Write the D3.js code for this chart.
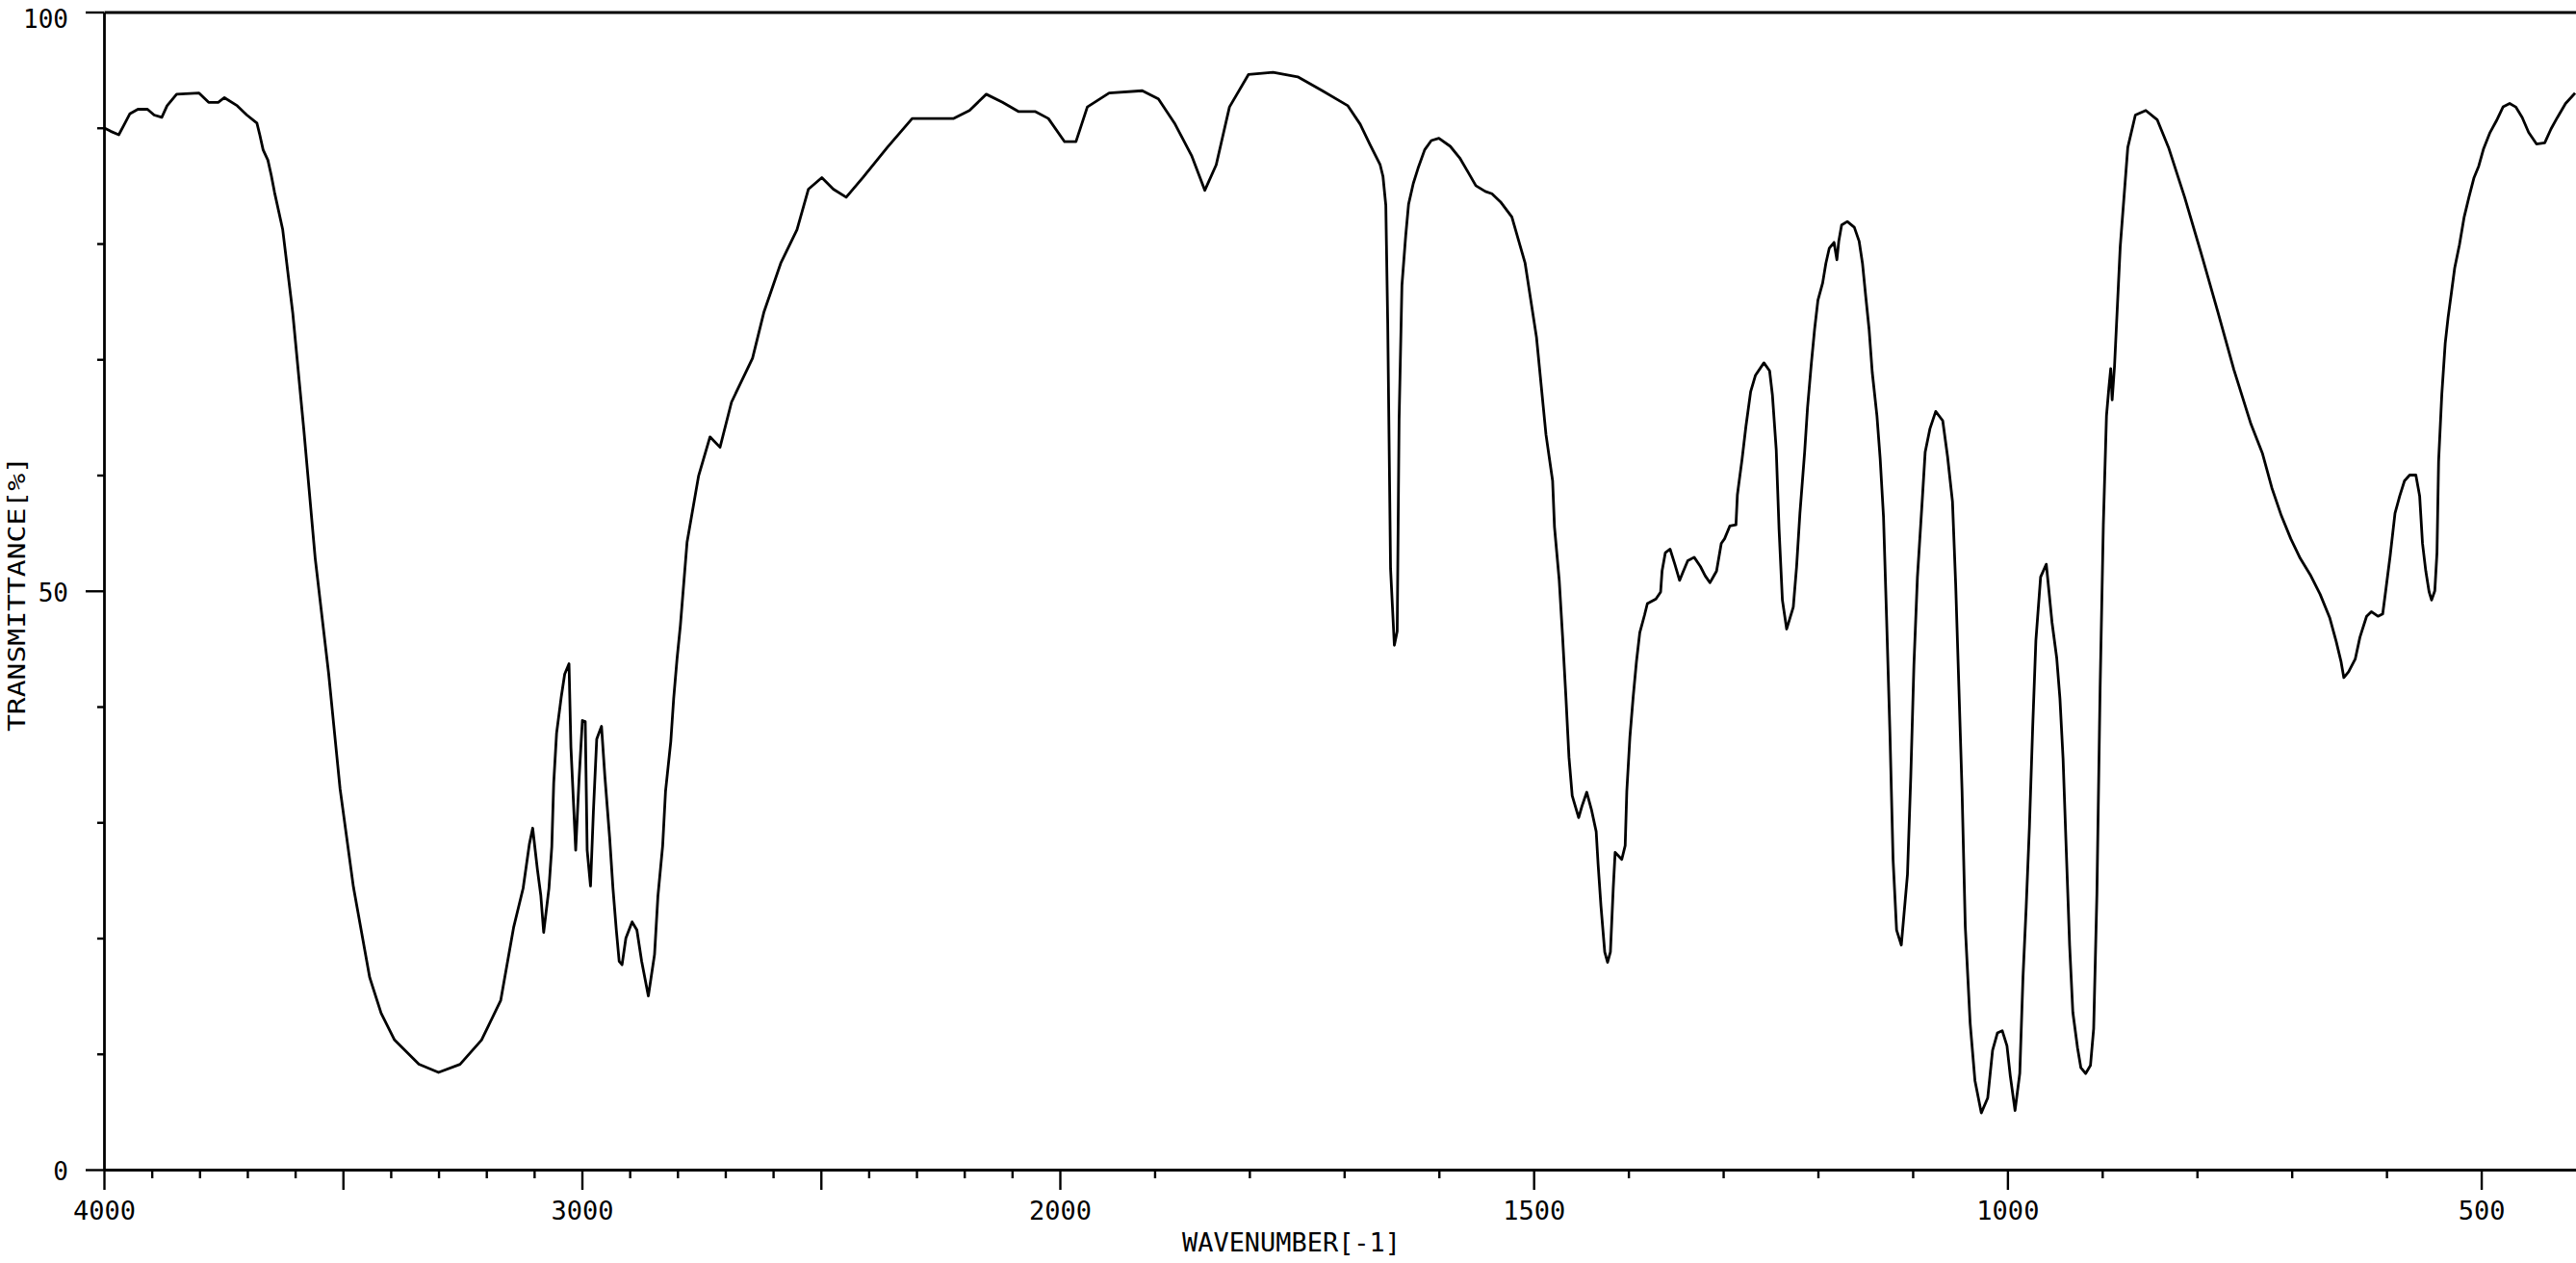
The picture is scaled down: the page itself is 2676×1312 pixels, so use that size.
<!DOCTYPE html>
<html>
<head>
<meta charset="utf-8">
<script src="https://cdn.jsdelivr.net/npm/d3@7"></script>
<style>
  html, body { margin: 0; padding: 0; background: #fff; }
  svg { display: block; }
  text { font-family: "DejaVu Sans Mono", "Liberation Mono", monospace; fill: #000; }
</style>
</head>
<body>
<script>
// ---- Data ----
const wavenumbers = [
  4000,3986,3969,3956,3946,3929,3909,3895,3879,3868,3848,3801,3781,3761,3748,3721,3701,3680,3674,3667,3657,3650,3643,3626,3605,3582,3558,3530,3506,3478,3444,3420,3392,3341,3300,3255,3210,3170,3143,3123,3110,3103,3093,3086,3080,3069,3063,3059,3053,3043,3036,3027,3023,3013,3006,2999,2993,2989,2982,2976,2969,2959,2952,2942,2935,2928,2922,2916,2908,2895,2885,2875,2861,2848,2841,2831,2825,2814,2808,2801,2794,2780,2756,2732,2711,2687,2643,2619,2584,2550,2526,2498,2474,2447,2412,2361,2309,2223,2189,2154,2120,2086,2051,2024,1995,1983,1971,1948,1913,1896,1879,1861,1847,1835,1821,1801,1775,1749,1723,1696,1683,1673,1662,1659,1656,1654,1651,1647,1644,1642,1639,1635,1632,1627,1622,1615,1608,1600,1588,1578,1568,1561,1551,1544,1535,1523,1509,1497,1487,1480,1478,1473,1469.5,1466,1462.7,1459.3,1452.5,1449,1444,1439,1434,1432,1429,1425,1422,1419,1416,1414,1407,1403.4,1401.7,1398.4,1395,1391.5,1388,1383,1380,1371,1366,1364.5,1361,1356,1351,1346,1342.5,1337.4,1330.6,1324,1319,1314,1307,1302,1298.5,1293,1286.5,1285,1280,1276,1271,1266,1257,1251,1248,1244,1241,1237.5,1233,1226,1222.5,1219,1214,1211,1207,1203.5,1200,1195,1191.6,1188,1183,1180,1178,1175,1169,1161.6,1156.5,1153,1149.5,1146,1142.7,1137.7,1134.3,1130.8,1127.5,1124,1120.7,1117,1112,1105.5,1102,1098.7,1095,1090,1086.8,1081.8,1075.7,1068.3,1063.2,1058,1054.6,1051.3,1047.9,1044.5,1039.4,1034.3,1027.6,1020.8,1015.7,1010.6,1005.5,1000.5,997,992,987,983.6,980.2,976.8,973.4,970,965,959,953,948,944.6,941.3,937.8,934.4,931,926,922.5,917.5,912.4,909,905.6,902.2,898.8,895.5,893,891,889.5,887,881,873,865,854,842,830,813,795,778,761,743,731,721,711,701,691,680.5,670,660,653,648,645,640,633,628,621,616,609,604,601,596,591,586,581,575.5,569,565,562,558.5,555,552.4,549,546.7,545,541.6,538,535,531.4,528,523,518,513,507.6,502.6,497.5,490.7,484,477,470,463.6,456.8,450,441.7,433,426.4,419.6,411,401
];
const transmittance = [
  90.0,89.7,89.4,90.4,91.2,91.6,91.6,91.1,90.9,91.9,92.9,93.0,92.2,92.2,92.6,91.9,91.1,90.4,89.4,88.1,87.2,85.9,84.4,81.2,74,64,52.8,42.9,32.9,24.4,16.6,13.5,11.2,9.1,8.4,9.1,11.2,14.6,20.9,24.3,28.1,29.5,25.9,23.7,20.5,24.3,27.9,33.4,37.7,40.9,42.8,43.7,36.5,27.6,33.7,38.8,38.7,27.6,24.5,30.9,37.2,38.3,34,28.7,24.3,20.7,18,17.7,20,21.4,20.7,18,15,18.6,23.6,28,32.7,37,40.7,44.1,47,54.2,59.9,63.3,62.4,66.3,70.1,74.1,78.3,81.2,84.7,85.7,84.7,84,85.7,88.3,90.8,90.8,91.5,92.9,92.2,91.4,91.4,90.8,88.8,88.8,91.8,93,93.2,92.5,90.4,87.6,84.6,86.8,91.8,94.6,94.8,94.4,93.2,91.9,90.3,88.6,86.8,85.8,83.3,73.1,51.9,45.3,46.5,64.8,76.4,80.7,83.4,85.2,86.5,88.1,88.9,89.1,88.4,87.4,86,85,84.5,84.3,83.6,82.3,78.3,71.9,63.5,59.5,55.5,50.9,46.1,40.9,35.6,32.3,30.4,31.4,32.6,31.1,29.2,26.4,22.8,18.8,17.9,18.8,24.3,27.4,26.8,28,32.7,37.4,40.8,43.9,46.4,47.9,48.9,49.3,49.9,51.7,53.3,53.6,52.3,50.9,51.6,52.6,52.9,52.1,51.3,50.7,51.7,54.1,54.5,55.6,55.7,58.3,61.4,64.2,67.2,68.6,69.7,69,66.9,62.2,55.3,49.2,46.7,48.6,52.1,56.7,62,65.8,69.6,72.6,75.1,76.6,78.3,79.6,80.1,78.6,80.2,81.6,81.9,81.4,80.2,78.3,75.4,72.6,68.9,65.1,61.4,56.4,47.5,37.7,26.8,20.7,19.4,25.5,34,43.6,51.2,57.7,62,64,65.5,64.7,61.6,57.7,50.5,41.8,32.7,21,12.7,7.7,4.9,6.2,10.3,11.8,12,10.7,8.1,5.1,8.3,16.6,22.7,29.6,38.1,45.7,51.2,52.3,47.3,44.2,40.7,35.5,27.3,19.4,13.6,10.5,8.8,8.3,9,12.2,23.8,41.6,55.7,65.1,67.5,69.2,66.5,69.4,79.7,88.3,91.1,91.5,90.7,88.3,84,79,74.1,69.1,64.4,61.9,58.9,56.5,54.5,52.8,51.4,49.7,47.7,45.6,43.9,42.5,43,44.1,46,47.8,48.2,47.8,48,49.9,53.1,56.7,58.2,59.5,60,60,58.2,54.1,51.7,49.9,49.2,50,53.3,61.2,67,71.4,73.6,75.8,77.9,79.9,82.3,84,85.7,86.7,88.2,89.6,90.6,91.8,92.1,91.8,90.9,89.6,88.6,88.7,89.9,90.9,92.1,93
];
const xTickValues = d3.range(4000, 400, -100);
const xMajorTicks = [4000, 3500, 3000, 2500, 2000, 1500, 1000, 500];
const xTickLabels = [4000, 3000, 2000, 1500, 1000, 500];
const yTickValues = d3.range(0, 101, 10);
const yTickLabels = [0, 50, 100];
const xTitle = "WAVENUMBER[-1]";
const yTitle = "TRANSMITTANCE[%]";

// ---- Layout ----
const W = 2676, H = 1312;
const mLeft = 108, mRight = 2676, mTop = 12.5, mBottom = 1215;

const svg = d3.select("body").append("svg").attr("width", W).attr("height", H);

// Spectrometer-style split scale: x scale doubles below 2000 cm-1
const x = d3.scaleLinear().domain([4000, 2000, 400]).range([mLeft, 1101, mRight]);
const y = d3.scaleLinear().domain([0, 100]).range([mBottom, mTop]);

const strokeW = 2.8;

// bottom axis
const xAxis = d3.axisBottom(x)
  .tickValues(xTickValues)
  .tickSizeOuter(0)
  .tickSizeInner(9)
  .tickFormat(d => xTickLabels.includes(d) ? String(d) : "");
const gx = svg.append("g").attr("transform", `translate(0,${mBottom})`).call(xAxis);
gx.select(".domain").attr("stroke", "#000").attr("stroke-width", strokeW);
gx.selectAll(".tick line").attr("stroke", "#000").attr("stroke-width", 2.4)
  .attr("y2", d => xMajorTicks.includes(d) ? 21 : 9);
gx.selectAll(".tick text").attr("y", 52).attr("dy", 0)
  .attr("font-size", 27).attr("font-family", "DejaVu Sans Mono");

// top frame
const gt = svg.append("g").attr("transform", `translate(0,${mTop})`)
  .call(d3.axisTop(x).tickValues([]).tickSizeOuter(0));
gt.select(".domain").attr("stroke", "#000").attr("stroke-width", strokeW);

// left axis
const yAxis = d3.axisLeft(y)
  .tickValues(yTickValues)
  .tickSizeOuter(0)
  .tickSizeInner(7)
  .tickFormat(d => yTickLabels.includes(d) ? String(d) : "");
const gy = svg.append("g").attr("transform", `translate(${mLeft},0)`).call(yAxis);
gy.select(".domain").attr("stroke", "#000").attr("stroke-width", strokeW);
gy.selectAll(".tick line").attr("stroke", "#000").attr("stroke-width", 2.4)
  .attr("x2", d => yTickLabels.includes(d) ? -19 : -7);
gy.selectAll(".tick text").attr("x", -37)
  .attr("dy", d => d === 100 ? "0.62em" : "0.42em")
  .attr("font-size", 26).attr("font-family", "DejaVu Sans Mono");

// axis titles
svg.append("text")
  .attr("x", 1228).attr("y", 1300)
  .attr("font-size", 27)
  .attr("textLength", 227)
  .attr("lengthAdjust", "spacingAndGlyphs")
  .text(xTitle);

svg.append("text")
  .attr("transform", `translate(26,617) rotate(-90)`)
  .attr("text-anchor", "middle")
  .attr("font-size", 25)
  .attr("textLength", 286)
  .attr("lengthAdjust", "spacingAndGlyphs")
  .text(yTitle);

// spectrum
const data = wavenumbers.map((w, i) => ({ w, t: transmittance[i] }));
svg.append("path")
  .datum(data)
  .attr("fill", "none")
  .attr("stroke", "#000")
  .attr("stroke-width", 2.8)
  .attr("stroke-linejoin", "round")
  .attr("d", d3.line().x(d => x(d.w)).y(d => y(d.t)));
</script>
</body>
</html>
